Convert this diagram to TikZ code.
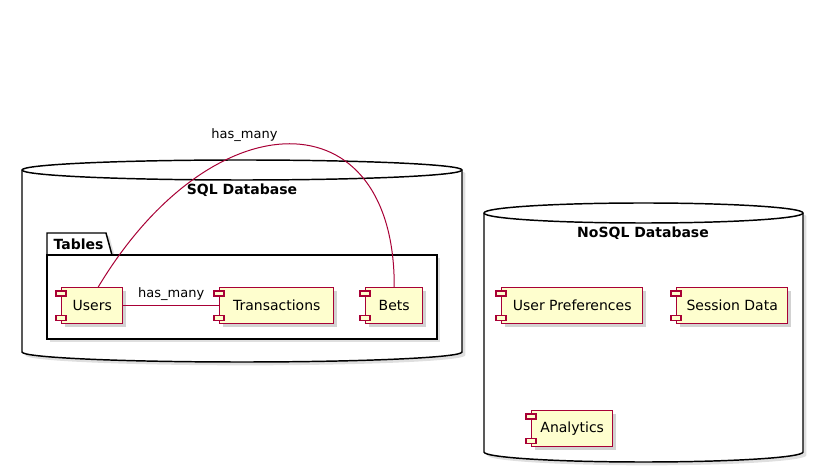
\documentclass[tikz,border=0pt]{standalone}
\usepackage{fontspec}
\setmainfont{DejaVu Sans}
\usetikzlibrary{shadows}
\definecolor{umlred}{HTML}{A80036}
\definecolor{umlfill}{HTML}{FEFECE}

\begin{document}
\begin{tikzpicture}[x=0.75pt,y=-0.75pt,
    component/.style={draw=umlred,fill=umlfill,line width=1.1pt,minimum height=27pt,anchor=north west,font=\fontsize{10.5}{12}\selectfont,drop shadow={shadow xshift=2.5pt,shadow yshift=-2.5pt,opacity=.35}},
    icon/.style={draw=umlred,fill=umlfill,line width=.8pt},
    database/.style={draw=black,fill=white,line width=1.1pt,drop shadow={shadow xshift=2.5pt,shadow yshift=-2.5pt,opacity=.25}},
    package/.style={draw=black,fill=white,line width=1.1pt,drop shadow={shadow xshift=2.5pt,shadow yshift=-2.5pt,opacity=.25}},
    title/.style={font=\fontsize{10.5}{12}\selectfont\bfseries},
    link/.style={draw=umlred,line width=.75pt},
    linklabel/.style={font=\fontsize{9.75}{12}\selectfont}]
  \useasboundingbox (0,0) rectangle (814,473);

  % SQL database
  \draw[database] (22,170) -- (22,352) arc[start angle=180,end angle=0,x radius=220,y radius=10] -- (462,170) arc[start angle=0,end angle=-180,x radius=220,y radius=10] -- cycle;
  \draw[line width=1.1pt] (22,170) arc[start angle=180,end angle=0,x radius=220,y radius=10];
  \node[title] (sql title) at (242,190) {SQL Database};

  % Tables package
  \draw[package] (47,255) -- (47,233) -- (106,233) -- (112,255) -- cycle;
  \draw[package] (47,255) rectangle (437,339);
  \node[title,anchor=west] (tables title) at (49,244) {Tables};

  % NoSQL database
  \draw[database] (484,213) -- (484,452) arc[start angle=180,end angle=0,x radius=159.5,y radius=10] -- (803,213) arc[start angle=0,end angle=-180,x radius=159.5,y radius=10] -- cycle;
  \draw[line width=1.1pt] (484,213) arc[start angle=180,end angle=0,x radius=159.5,y radius=10];
  \node[title] (nosql title) at (643,233) {NoSQL Database};

  % components
  \node[component,minimum width=45.75pt] (users) at (61,287) {Users};
  \node[component,minimum width=85.5pt] (transactions) at (219,287) {Transactions};
  \node[component,minimum width=42.75pt] (bets) at (365,287) {Bets};
  \node[component,minimum width=105.75pt] (preferences) at (501,287) {User Preferences};
  \node[component,minimum width=83.25pt] (session) at (676,287) {Session Data};
  \node[component,minimum width=60.75pt] (analytics) at (531,410) {Analytics};
  \foreach \comp in {users,transactions,bets,preferences,session,analytics}{
    \draw[icon] ([xshift=-3.75pt,yshift=-3pt]\comp.north west) rectangle ++(7.5pt,-3.75pt);
    \draw[icon] ([xshift=-3.75pt,yshift=3pt]\comp.south west) rectangle ++(7.5pt,3.75pt);
  }

  % relations
  \draw[link] (users) -- node[linklabel,above] (label users transactions) {has\_many} (transactions);
  \draw[link] ([xshift=4.5pt]users.north) .. controls (213,96) and (395,96) .. (bets.north) node[linklabel,pos=.38,above=4pt] (label users bets) {has\_many};
\end{tikzpicture}
\end{document}
